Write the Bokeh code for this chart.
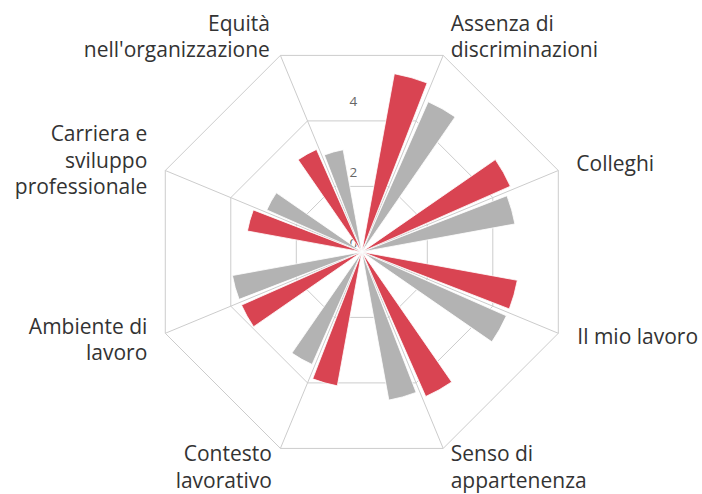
import numpy as np
from bokeh.plotting import figure
from bokeh.models import ColumnDataSource, Range1d
from bokeh.embed import file_html
from bokeh.resources import INLINE
from bokeh.core.properties import value

# ---------------- data ----------------
categories = ["Assenza di discriminazioni", "Colleghi", "Il mio lavoro",
              "Senso di appartenenza", "Contesto lavorativo", "Ambiente di lavoro",
              "Carriera e sviluppo professionale", "Equità nell'organizzazione"]
label_lines = [["Assenza di", "discriminazioni"], ["Colleghi"], ["Il mio lavoro"],
               ["Senso di", "appartenenza"], ["Contesto", "lavorativo"],
               ["Ambiente di", "lavoro"], ["Carriera e", "sviluppo", "professionale"],
               ["Equità", "nell'organizzazione"]]
series_red = [5.11, 4.58, 4.46, 4.46, 3.84, 3.71, 3.28, 3.16]
series_gray = [4.63, 4.39, 4.46, 4.25, 3.47, 3.71, 2.93, 2.93]
ring_values = [2, 4, 6]
tick_values = [0, 2, 4]
tick_labels = ["0", "2", "4"]

# ---------------- layout ----------------
W, H = 702, 494
S = 35.45            # px per unit
CX, CY = 361.3, 251.4
RED = "#d94452"
GRAY = "#b3b3b3"
GRID = "#cccccc"
FONT = "Open Sans"
TXT_SHIFT = -8.0     # baseline correction

p = figure(width=W, height=H, output_backend="svg", toolbar_location=None,
           x_range=Range1d(-CX / S, (W - CX) / S),
           y_range=Range1d(-(H - CY) / S, CY / S),
           min_border=0, outline_line_color=None)
p.axis.visible = False
p.grid.visible = False
p.background_fill_color = "white"

n = len(categories)
theta_c = np.array([22.5 + 45 * i for i in range(n)])   # clockwise from top
rmax = max(ring_values)

# grid rings (polygons)
xs, ys = [], []
for r in ring_values:
    th = np.radians(np.append(theta_c, theta_c[0]))
    xs.append(list(r * np.sin(th)))
    ys.append(list(r * np.cos(th)))
# spokes
for t in theta_c:
    th = np.radians(t)
    xs.append([0, rmax * np.sin(th)])
    ys.append([0, rmax * np.cos(th)])
p.multi_line(xs=xs, ys=ys, line_color=GRID, line_width=1)

# radial tick labels
p.text(x=[0] * len(tick_values), y=tick_values, text=tick_labels,
       x_offset=-8.5, y_offset=-2 + TXT_SHIFT + 1.5, text_align="center",
       text_baseline="alphabetic",
       text_font=value(FONT), text_font_size="13.5px", text_color="#666666")

# bars
phi = 90 - theta_c
src = ColumnDataSource(dict(
    r_red=series_red, r_gray=series_gray,
    red_s=np.radians(phi + 1.35), red_e=np.radians(phi + 12.15),
    gray_s=np.radians(phi - 12.15), gray_e=np.radians(phi - 1.35),
))
p.wedge(x=0, y=0, radius="r_red", start_angle="red_s", end_angle="red_e",
        source=src, fill_color=RED, line_color="white", line_width=0.8)
p.wedge(x=0, y=0, radius="r_gray", start_angle="gray_s", end_angle="gray_e",
        source=src, fill_color=GRAY, line_color="white", line_width=0.8)

# category labels
label_pos = [("left", 7.5, -24.5), ("left", 18, 0.7), ("left", 19, 11.2),
             ("left", 7.5, 12.8), ("right", -8.5, 12.8), ("right", -18, 0.5),
             ("right", -18, -29.3), ("right", -10.5, -24.5)]
PITCH = 26.3
rows = {"left": dict(x=[], y=[], t=[], dx=[], dy=[]),
        "right": dict(x=[], y=[], t=[], dx=[], dy=[])}
for i, lines in enumerate(label_lines):
    al, dx, dy = label_pos[i]
    th = np.radians(theta_c[i])
    vx, vy = rmax * np.sin(th), rmax * np.cos(th)
    for j, ln in enumerate(lines):
        d = rows[al]
        d["x"].append(vx); d["y"].append(vy); d["t"].append(ln)
        d["dx"].append(dx); d["dy"].append(dy + j * PITCH + TXT_SHIFT)
for al, d in rows.items():
    p.text(x="x", y="y", text="t", x_offset="dx", y_offset="dy",
           source=ColumnDataSource(d), text_align=al, text_baseline="alphabetic",
           text_font=value(FONT), text_font_size="21px", text_color="#333333")

open("out.html", "w").write(file_html(p, INLINE))
